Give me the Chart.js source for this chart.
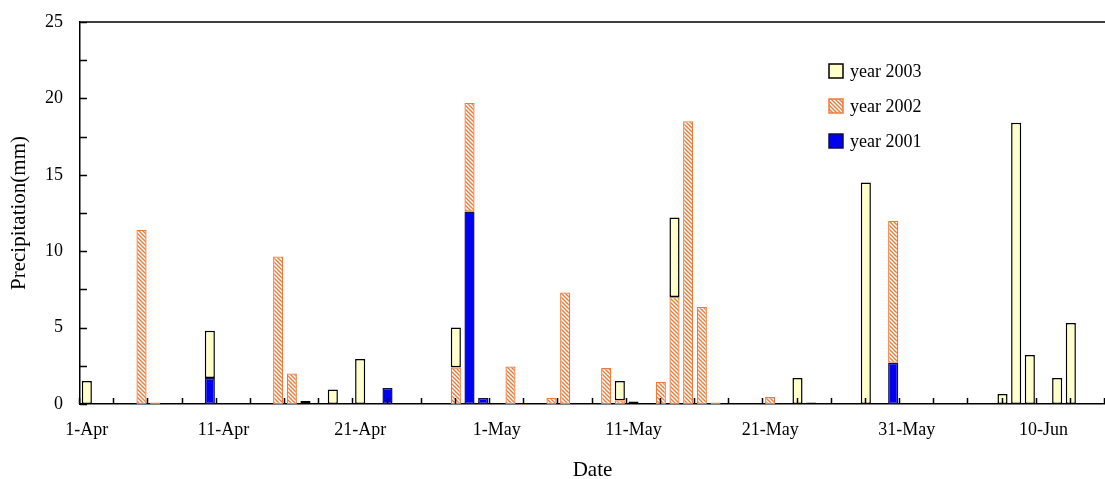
<!DOCTYPE html>
<html lang="en">
<head>
<meta charset="UTF-8">
<title>Precipitation</title>
<script src="https://cdn.jsdelivr.net/npm/chart.js"></script>
<style>
  html, body { margin: 0; padding: 0; background: #fff; }
  #wrap { width: 1105px; height: 479px; }
</style>
</head>
<body>
<div id="wrap"><canvas id="myChart" width="1105" height="479"></canvas></div>
<script>
    // days from 1-Apr to 14-Jun
    var start_day = new Date(2003, 3, 1);
    var n_days = 75;
    var months = ['Jan', 'Feb', 'Mar', 'Apr', 'May', 'Jun'];
    var day_labels = [];
    for (var i = 0; i < n_days; i++) {
        var d = new Date(start_day.getTime() + i * 86400000);
        day_labels.push(d.getDate() + '-' + months[d.getMonth()]);
    }

    var y_ticks = [0, 5, 10, 15, 20, 25];

    // precipitation (mm), one value per day, null = no rain
    var rain_2001 = [
        null, null, null, null, null, null, null, null, null, 1.7,
        null, null, null, null, null, null, null, null, null, null,
        null, null, 1.05, null, null, null, null, null, 12.6, 0.4,
        null, null, null, null, null, null, null, null, null, null,
        null, null, null, null, null, null, null, null, null, null,
        null, null, null, null, null, null, null, null, null, 2.7,
        null, null, null, null, null, null, null, null, null, null,
        null, null, null, null, null
    ];
    var rain_2002 = [
        null, null, null, null, 11.4, 0.1, null, null, null, null,
        null, null, null, null, 9.65, 2.0, null, null, null, null,
        null, null, null, null, null, null, null, 2.4, 7.1, null,
        null, 2.45, null, null, 0.4, 7.3, null, null, 2.35, 0.25,
        null, null, 1.45, 7.0, 18.5, 6.35, 0.1, null, null, null,
        0.45, null, null, null, null, null, null, null, null, 9.3,
        null, null, null, null, null, null, null, null, null, null,
        null, null, null, null, null
    ];
    var rain_2003 = [
        1.5, null, null, null, null, null, null, null, null, 3.1,
        null, null, null, null, null, null, 0.2, null, 0.95, null,
        2.95, null, null, null, null, null, null, 2.6, null, null,
        null, null, null, null, null, null, null, null, null, 1.25,
        0.17, null, null, 5.2, null, null, null, null, null, null,
        null, null, 1.7, 0.1, null, null, null, 14.5, null, null,
        null, null, null, null, null, null, null, 0.65, 18.4, 3.2,
        null, 1.7, 5.3, null, null
    ];

    var serif = "'Liberation Serif', 'Times New Roman', serif";

    function make_hatch() {
        var c = document.createElement('canvas');
        c.width = 4; c.height = 4;
        var g = c.getContext('2d');
        g.fillStyle = '#ffffff';
        g.fillRect(0, 0, 4, 4);
        g.strokeStyle = '#f07a3a';
        g.lineWidth = 1.4;
        g.beginPath();
        g.moveTo(-1, -1); g.lineTo(5, 5);
        g.moveTo(-1, 3); g.lineTo(1, 5);
        g.moveTo(3, -1); g.lineTo(5, 1);
        g.stroke();
        return c.getContext('2d').createPattern(c, 'repeat');
    }
    var hatch = make_hatch();

    // inward tick marks, top frame line and the legend box
    var frame_plugin = {
        id: 'frame',
        afterDraw: function(chart) {
            var ctx = chart.ctx;
            var area = chart.chartArea;
            var xs = chart.scales.x, ys = chart.scales.y;
            ctx.save();
            ctx.strokeStyle = '#000';
            ctx.lineWidth = 1.5;
            ctx.beginPath();
            ctx.moveTo(area.left, area.top);
            ctx.lineTo(area.right, area.top);
            // y ticks every 2.5
            for (var v = 0; v <= 25; v += 2.5) {
                var py = Math.round(ys.getPixelForValue(v)) + 0.5;
                ctx.moveTo(area.left, py);
                ctx.lineTo(area.left + 7, py);
            }
            // x ticks every 2.5 days, on category boundaries
            for (var k = 0; k <= n_days; k += 2.5) {
                var px = Math.round(xs.getPixelForValue(k - 0.5)) - 0.5;
                ctx.moveTo(px, area.bottom);
                ctx.lineTo(px, area.bottom - 6);
            }
            ctx.stroke();

            // legend, reversed order
            var sets = chart.data.datasets.slice().reverse();
            ctx.font = '18px ' + serif;
            ctx.textBaseline = 'middle';
            ctx.textAlign = 'left';
            for (var i = 0; i < sets.length; i++) {
                var cy = 71 + i * 35;
                ctx.fillStyle = sets[i].backgroundColor;
                ctx.fillRect(829, cy - 7, 14, 14);
                ctx.lineWidth = 1.5;
                ctx.strokeStyle = sets[i].borderColor;
                ctx.strokeRect(829, cy - 7, 14, 14);
                ctx.fillStyle = '#000';
                ctx.fillText(sets[i].label, 850, cy + 1);
            }
            ctx.restore();
        }
    };

    var ctx = document.getElementById('myChart');
    var chart = new Chart(ctx, {
        type: 'bar',
        data: {
            labels: day_labels,
            datasets: [
                {label: 'year 2001', data: rain_2001, backgroundColor: '#0000f0',
                 borderColor: '#10104a', borderWidth: 1.5, borderSkipped: false},
                {label: 'year 2002', data: rain_2002, backgroundColor: hatch,
                 borderColor: '#f07a3a', borderWidth: 1.3, borderSkipped: false},
                {label: 'year 2003', data: rain_2003, backgroundColor: '#ffffcc',
                 borderColor: '#000000', borderWidth: 1.5, borderSkipped: false}
            ]
        },
        options: {
            responsive: false,
            animation: false,
            layout: {padding: {top: 22, right: 0, left: 0, bottom: 0}},
            datasets: {bar: {categoryPercentage: 1.0, barPercentage: 0.74}},
            plugins: {legend: {display: false}, tooltip: {enabled: false}},
            scales: {
                x: {
                    stacked: true,
                    grid: {display: false, drawTicks: false},
                    border: {display: true, color: '#000', width: 1.5},
                    ticks: {
                        autoSkip: false, maxRotation: 0, padding: 15,
                        color: '#000', font: {family: serif, size: 18},
                        callback: function(val, idx) {
                            return idx % 10 === 0 ? day_labels[idx] : '';
                        }
                    },
                    title: {display: true, text: 'Date', color: '#000',
                            font: {family: serif, size: 21, lineHeight: 1}, padding: {top: 0, bottom: -2}},
                    afterFit: function(s) {
                        s.height = 75;
                        s.paddingLeft = 0; s.paddingRight = 0;
                    }
                },
                y: {
                    stacked: true,
                    min: 0, max: 25,
                    grid: {display: false, drawTicks: false},
                    border: {display: true, color: '#000', width: 1.5},
                    afterBuildTicks: function(s) {
                        s.ticks = y_ticks.map(function(v) { return {value: v}; });
                    },
                    ticks: {padding: 17, color: '#000', font: {family: serif, size: 18}},
                    title: {display: true, text: 'Precipitation(mm)', color: '#000',
                            font: {family: serif, size: 21, lineHeight: 1}, padding: {top: 9, bottom: 0}},
                    afterFit: function(s) {
                        s.width = 80;
                        s.paddingTop = 0; s.paddingBottom = 0;
                    }
                }
            }
        },
        plugins: [frame_plugin]
    });
</script>
</body>
</html>
